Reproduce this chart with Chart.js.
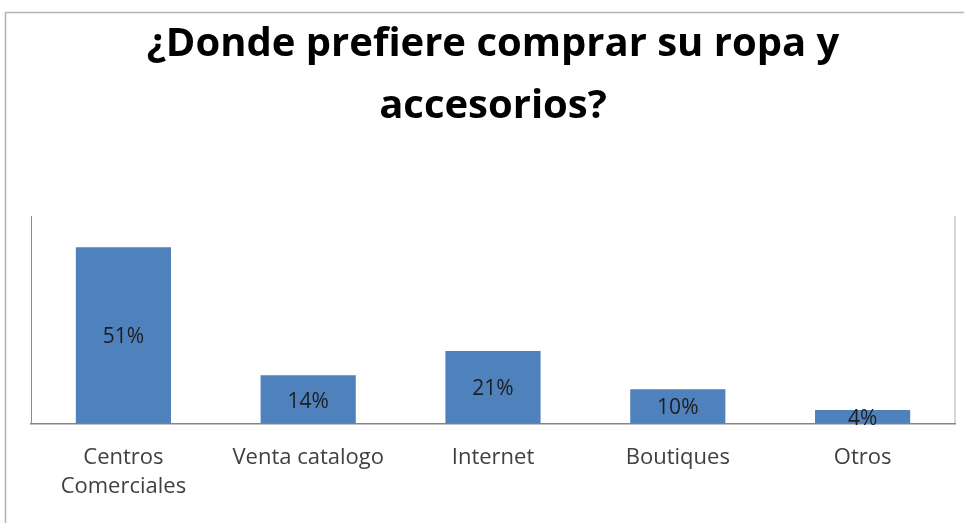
<!DOCTYPE html>
<html>
<head>
<meta charset="utf-8">
<script src="https://cdn.jsdelivr.net/npm/chart.js@4.4.0/dist/chart.umd.min.js"></script>
<style>
html,body{margin:0;padding:0;background:#fff;}
#wrap{width:964px;height:523px;position:relative;}
</style>
</head>
<body>
<div id="wrap"><canvas id="c" width="964" height="523"></canvas></div>
<script>
const categories = [["Centros", "Comerciales"], "Venta catalogo", "Internet", "Boutiques", "Otros"];
const values = [51, 14, 21, 10, 4];
const titleLines = ["¿Donde prefiere comprar su ropa y", "accesorios?"];

const framePlugin = {
  id: 'frame',
  beforeDraw(chart) {
    const ctx = chart.ctx;
    ctx.save();
    ctx.fillStyle = '#fff';
    ctx.fillRect(0, 0, chart.width, chart.height);
    ctx.strokeStyle = '#b4b4b4';
    ctx.lineWidth = 1.5;
    ctx.beginPath();
    ctx.moveTo(5.5, chart.height + 5);
    ctx.lineTo(5.5, 12.5);
    ctx.lineTo(chart.width + 5, 12.5);
    ctx.stroke();
    const a = chart.chartArea;
    ctx.strokeStyle = '#c8c8c8';
    ctx.lineWidth = 1.5;
    ctx.beginPath();
    ctx.moveTo(a.right, a.top);
    ctx.lineTo(a.right, a.bottom);
    ctx.stroke();
    ctx.restore();
  }
};

const labelPlugin = {
  id: 'barLabels',
  afterDatasetsDraw(chart) {
    const ctx = chart.ctx;
    const meta = chart.getDatasetMeta(0);
    ctx.save();
    ctx.font = '21px "Open Sans"';
    ctx.fillStyle = '#1e1e1e';
    ctx.textAlign = 'center';
    ctx.textBaseline = 'middle';
    meta.data.forEach((bar, i) => {
      const y = (bar.y + bar.base) / 2 + 2;
      ctx.fillText(values[i] + '%', bar.x, y);
    });
    ctx.restore();
  }
};

new Chart(document.getElementById('c'), {
  type: 'bar',
  data: {
    labels: categories,
    datasets: [{
      data: values,
      backgroundColor: '#4F81BD',
      borderWidth: 0,
      categoryPercentage: 1,
      barPercentage: 0.515
    }]
  },
  options: {
    responsive: false,
    animation: false,
    layout: { padding: { left: 31, right: 9, top: 14, bottom: 2 } },
    plugins: {
      legend: { display: false },
      tooltip: { enabled: false },
      title: {
        display: true,
        text: titleLines,
        color: '#000',
        font: { family: '"Open Sans"', size: 40, weight: 'bold', lineHeight: 1.55 },
        padding: { top: 0, bottom: 78 }
      }
    },
    scales: {
      x: {
        grid: { display: false, drawTicks: false },
        border: { display: true, color: '#868686', width: 1.5 },
        ticks: {
          color: '#404040',
          font: { family: '"Open Sans"', size: 22, lineHeight: 1.3 },
          padding: 20,
          maxRotation: 0,
          autoSkip: false
        }
      },
      y: {
        min: 0,
        max: 60,
        grid: { display: false, drawTicks: false },
        border: { display: true, color: '#8c8c8c', width: 1 },
        ticks: { display: false }
      }
    }
  },
  plugins: [framePlugin, labelPlugin]
});
</script>
</body>
</html>
